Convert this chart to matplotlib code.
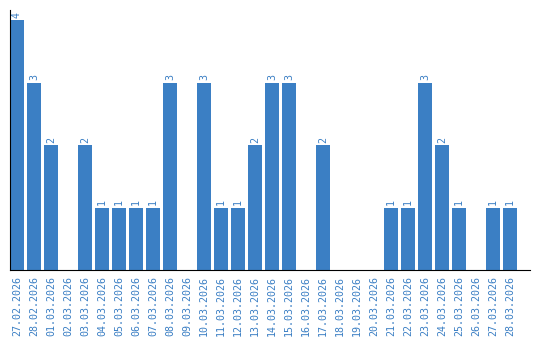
import matplotlib
matplotlib.use("Agg")
import matplotlib.pyplot as plt

dates = ["27.02.2026", "28.02.2026", "01.03.2026", "02.03.2026", "03.03.2026",
         "04.03.2026", "05.03.2026", "06.03.2026", "07.03.2026", "08.03.2026",
         "09.03.2026", "10.03.2026", "11.03.2026", "12.03.2026", "13.03.2026",
         "14.03.2026", "15.03.2026", "16.03.2026", "17.03.2026", "18.03.2026",
         "19.03.2026", "20.03.2026", "21.03.2026", "22.03.2026", "23.03.2026",
         "24.03.2026", "25.03.2026", "26.03.2026", "27.03.2026", "28.03.2026"]
counts = [4, 3, 2, 0, 2, 1, 1, 1, 1, 3, 0, 3, 1, 1, 2, 3, 3, 0, 2, 0,
          0, 0, 1, 1, 3, 2, 1, 0, 1, 1]

color = "#3b7fc4"
fig = plt.figure(figsize=(5.4, 3.4), dpi=100)
ax = fig.add_axes([10/540, 70/340, 520/540, 260/340])
x = list(range(len(dates)))
ax.bar(x, counts, width=0.82, color=color)
for xi, v in zip(x, counts):
    if v > 0:
        ax.text(xi, v + 0.04, str(v), rotation=90, ha="center", va="bottom",
                color=color, fontsize=7.2, family="DejaVu Sans Mono")
ax.set_xlim(-0.41, 30.18)
ax.set_ylim(0, 4.16)
ax.set_xticks(x)
ax.set_xticklabels(dates, rotation=90, color=color, fontsize=7.2,
                   family="DejaVu Sans Mono")
ax.tick_params(axis="x", length=0, pad=4)
ax.set_yticks([])
for s in ["top", "right"]:
    ax.spines[s].set_visible(False)
ax.spines["left"].set_color("black")
ax.spines["bottom"].set_color("black")
fig.savefig("out.png", dpi=100)
